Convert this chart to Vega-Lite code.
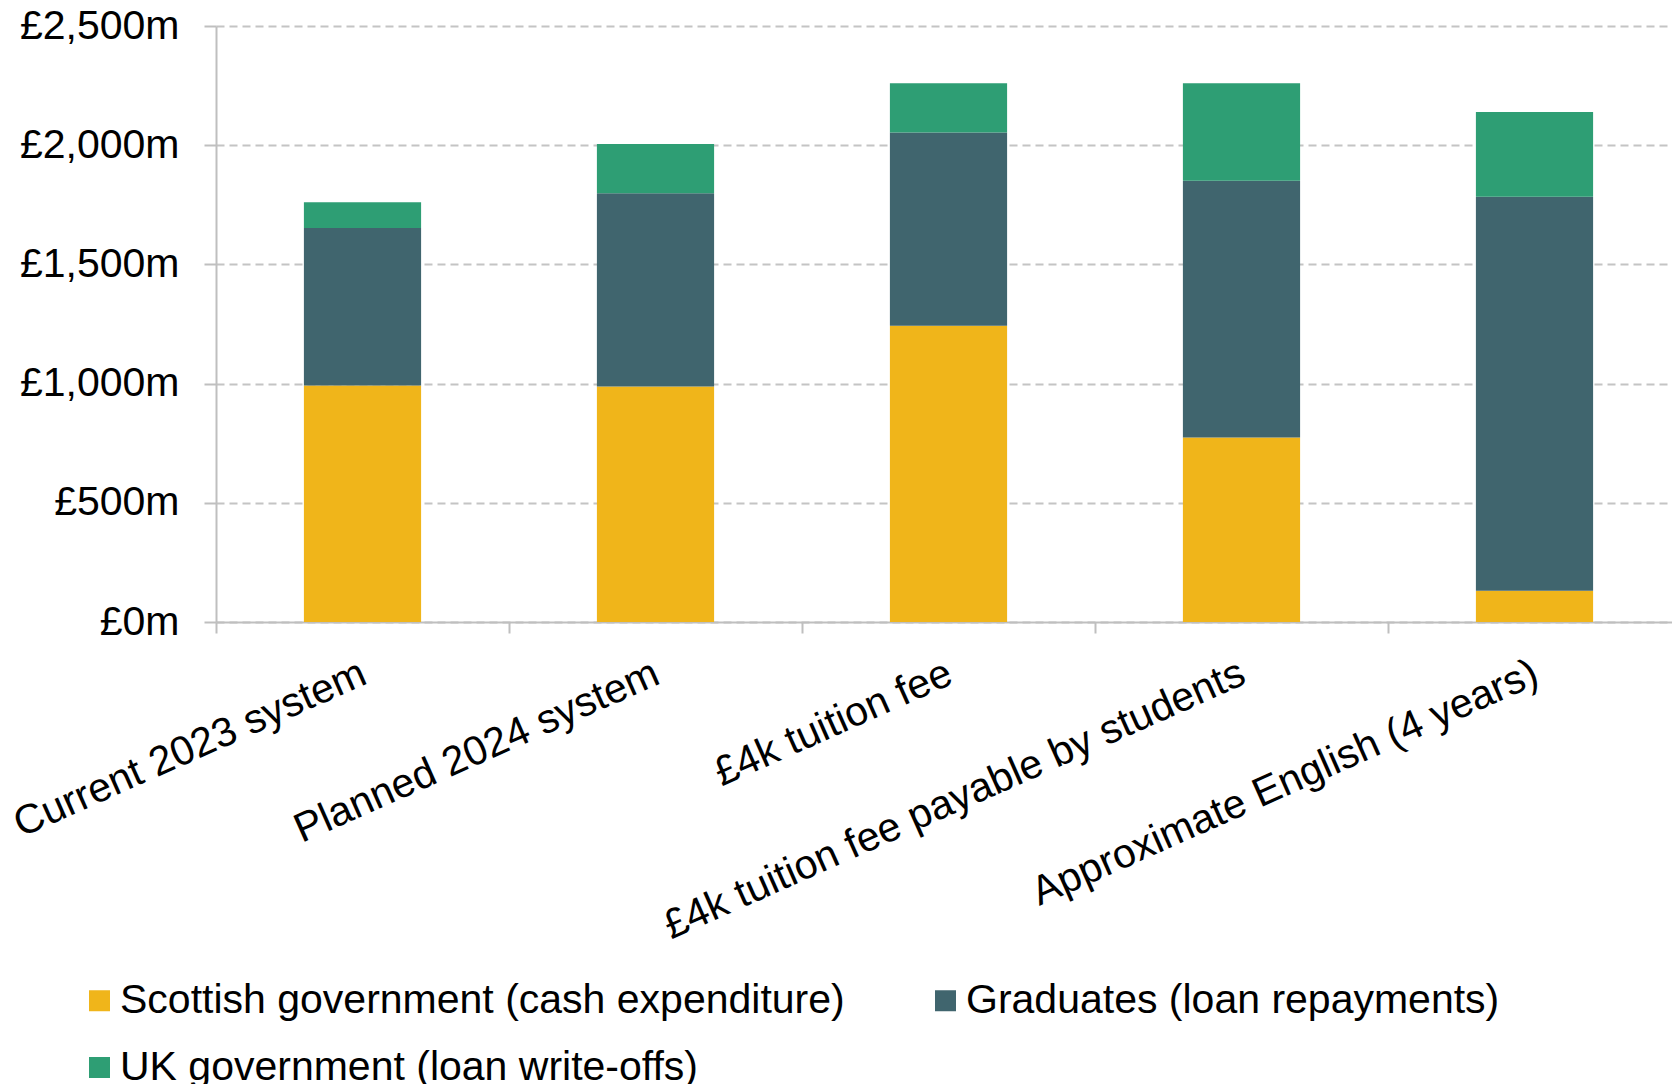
{
  "$schema": "https://vega.github.io/schema/vega-lite/v6.json",
  "width": 1456,
  "height": 596,
  "autosize": {"type": "none"},
  "padding": {"left": 216, "top": 26, "right": 0, "bottom": 462},
  "data": {
    "values": [
      {"scenario": "Current 2023 system", "component": "Scottish government (cash expenditure)", "ord": 1, "value": 992},
      {"scenario": "Current 2023 system", "component": "Graduates (loan repayments)", "ord": 2, "value": 661},
      {"scenario": "Current 2023 system", "component": "UK government (loan write-offs)", "ord": 3, "value": 108},
      {"scenario": "Planned 2024 system", "component": "Scottish government (cash expenditure)", "ord": 1, "value": 988},
      {"scenario": "Planned 2024 system", "component": "Graduates (loan repayments)", "ord": 2, "value": 810},
      {"scenario": "Planned 2024 system", "component": "UK government (loan write-offs)", "ord": 3, "value": 207},
      {"scenario": "£4k tuition fee", "component": "Scottish government (cash expenditure)", "ord": 1, "value": 1243},
      {"scenario": "£4k tuition fee", "component": "Graduates (loan repayments)", "ord": 2, "value": 810},
      {"scenario": "£4k tuition fee", "component": "UK government (loan write-offs)", "ord": 3, "value": 207},
      {"scenario": "£4k tuition fee payable by students", "component": "Scottish government (cash expenditure)", "ord": 1, "value": 774},
      {"scenario": "£4k tuition fee payable by students", "component": "Graduates (loan repayments)", "ord": 2, "value": 1077},
      {"scenario": "£4k tuition fee payable by students", "component": "UK government (loan write-offs)", "ord": 3, "value": 409},
      {"scenario": "Approximate English (4 years)", "component": "Scottish government (cash expenditure)", "ord": 1, "value": 131},
      {"scenario": "Approximate English (4 years)", "component": "Graduates (loan repayments)", "ord": 2, "value": 1653},
      {"scenario": "Approximate English (4 years)", "component": "UK government (loan write-offs)", "ord": 3, "value": 355}
    ]
  },
  "mark": {"type": "bar", "width": {"band": 0.4}},
  "encoding": {
    "x": {
      "field": "scenario",
      "type": "nominal",
      "sort": ["Current 2023 system", "Planned 2024 system", "£4k tuition fee", "£4k tuition fee payable by students", "Approximate English (4 years)"],
      "scale": {"range": [0, 1465], "paddingInner": 0, "paddingOuter": 0},
      "axis": {
        "title": null,
        "tickBand": "extent",
        "domainColor": "#BFBFBF",
        "domainWidth": 2,
        "tickColor": "#BFBFBF",
        "tickWidth": 2,
        "tickSize": 11,
        "labelAngle": -24,
        "labelAlign": "right",
        "labelBaseline": "top",
        "labelPadding": 20,
        "labelOffset": -7,
        "labelFontSize": 41,
        "labelColor": "#000000",
        "labelFont": "Liberation Sans",
        "labelLimit": 0,
        "labelOverlap": false
      }
    },
    "y": {
      "field": "value",
      "type": "quantitative",
      "stack": "zero",
      "scale": {"domain": [0, 2500], "nice": false},
      "axis": {
        "title": null,
        "values": [0, 500, 1000, 1500, 2000, 2500],
        "labelExpr": "'£' + format(datum.value, ',') + 'm'",
        "grid": true,
        "gridDash": [8, 5],
        "gridColor": "#C4C4C4",
        "gridWidth": 2,
        "domainColor": "#BFBFBF",
        "domainWidth": 2,
        "tickColor": "#BFBFBF",
        "tickWidth": 2,
        "tickSize": 12,
        "labelPadding": 25,
        "labelFontSize": 41,
        "labelColor": "#000000",
        "labelFont": "Liberation Sans"
      }
    },
    "color": {
      "field": "component",
      "type": "nominal",
      "scale": {
        "domain": ["Scottish government (cash expenditure)", "Graduates (loan repayments)", "UK government (loan write-offs)"],
        "range": ["#F0B51A", "#40656E", "#2E9E74"]
      },
      "legend": {
        "title": null,
        "orient": "none",
        "legendX": -137,
        "legendY": 954,
        "direction": "horizontal",
        "columns": 2,
        "columnPadding": 80,
        "rowPadding": 25,
        "padding": 0,
        "symbolType": "square",
        "symbolSize": 441,
        "symbolStrokeWidth": 0,
        "labelFontSize": 41,
        "labelFont": "Liberation Sans",
        "labelColor": "#000000",
        "labelOffset": 0,
        "labelLimit": 0
      }
    },
    "order": {"field": "ord", "type": "quantitative"}
  },
  "config": {"view": {"stroke": null}, "font": "Liberation Sans"}
}
